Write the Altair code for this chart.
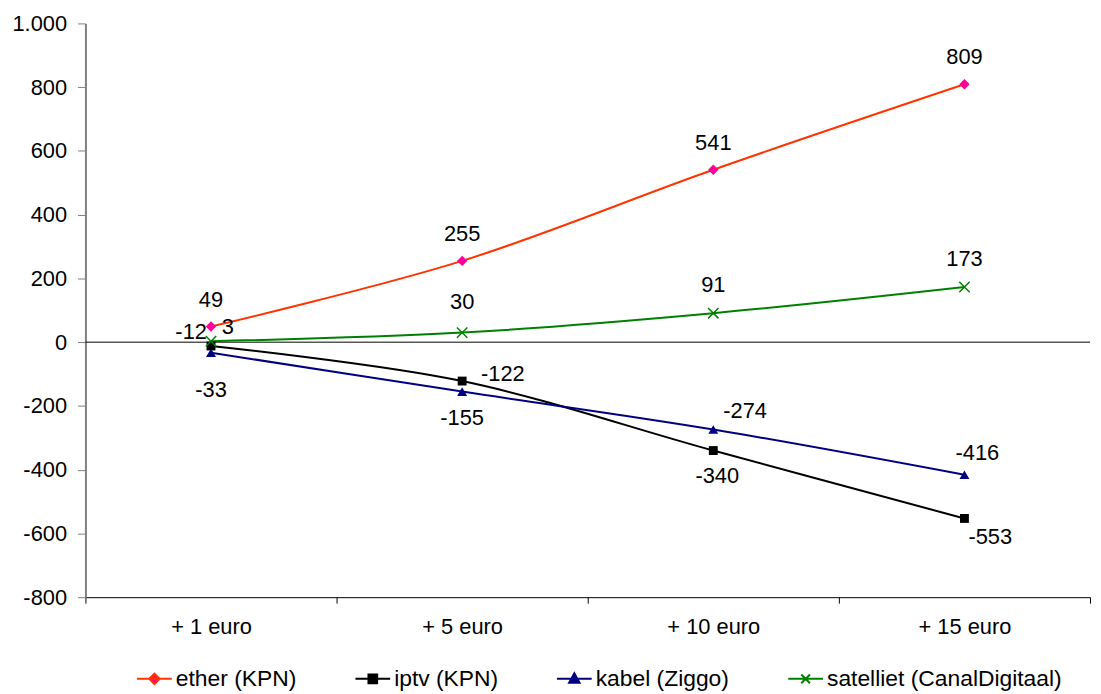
import altair as alt
import pandas as pd

# ---- data ----
categories = ["+ 1 euro", "+ 5 euro", "+ 10 euro", "+ 15 euro"]
series_names = ["ether (KPN)", "iptv (KPN)", "kabel (Ziggo)", "satelliet (CanalDigitaal)"]
ether = [49, 255, 541, 809]
iptv = [-12, -122, -340, -553]
kabel = [-33, -155, -274, -416]
satelliet = [3, 30, 91, 173]
y_ticks = [-800, -600, -400, -200, 0, 200, 400, 600, 800, 1000]

# ---- styles ----
FONT = "Liberation Sans, Arial, Helvetica, sans-serif"
line_colors = ["#FF3300", "#000000", "#000080", "#008000"]
marker_colors = ["#FF0099", "#000000", "#000080", "#008000"]
X_PATH = "M-1,-1L1,1M-1,1L1,-1"
marker_shapes = ["diamond", "square", "triangle-up", X_PATH]
marker_sizes = [110, 80, 100, 110]
legend_paths = [
    "M-1,0H1M0,-0.3L0.3,0L0,0.3L-0.3,0Z",
    "M-1,0H1M-0.25,-0.25H0.25V0.25H-0.25Z",
    "M-1,0H1M0,-0.32L0.3,0.22H-0.3Z",
    "M-1,0H1M-0.25,-0.25L0.25,0.25M-0.25,0.25L0.25,-0.25",
]
# data label offsets in pixels (label placement as in the original)
label_dx = [[0, 0, 0, 0], [-20, 41, 4, 26], [0, 0, 32, 13], [17, 0, 0, 0]]
label_dy = [[-27, -27, -27, -27], [-14, -7, 26, 19], [38, 27, -19, -22], [-14, -31, -28, -28]]

values = [ether, iptv, kabel, satelliet]

x_enc = alt.X(
    "category:N",
    sort=categories,
    scale=alt.Scale(domain=categories, paddingInner=0, paddingOuter=0),
    axis=alt.Axis(
        title=None, labelAngle=0, tickBand="extent", domainColor="#000000",
        tickColor="#000000", tickSize=6, labelPadding=14, labelFontSize=22,
        labelFont=FONT, labelColor="#000000", grid=False, domainWidth=1,
    ),
)
y_enc = alt.Y(
    "value:Q",
    scale=alt.Scale(domain=[-800, 1000], nice=False, zero=False),
    axis=alt.Axis(
        title=None, values=y_ticks, grid=False, domainColor="#808080", domainWidth=2,
        tickColor="#808080", tickSize=8, labelPadding=11, labelFontSize=22,
        labelFont=FONT, labelColor="#000000",
        labelExpr="replace(replace(format(datum.value, ','), ',', '.'), '\u2212', '-')",
    ),
)

frames = []
for i, name in enumerate(series_names):
    frames.append(pd.DataFrame({
        "category": categories,
        "value": values[i],
        "label": [str(v) for v in values[i]],
        "series": name,
    }))
df_all = pd.concat(frames, ignore_index=True)

zero_rule = alt.Chart(pd.DataFrame({"value": [0]})).mark_rule(color="#000000", strokeWidth=1).encode(
    y=y_enc
)

layers = [zero_rule]
for i, name in enumerate(series_names):
    layers.append(
        alt.Chart(frames[i]).mark_line(color=line_colors[i], strokeWidth=2, interpolate="cardinal")
        .encode(x=x_enc, y=y_enc)
    )
for i, name in enumerate(series_names):
    base = alt.Chart(frames[i])
    if i == 3:
        pts = base.mark_point(shape=X_PATH, size=marker_sizes[i], filled=False,
                              stroke=marker_colors[i], strokeWidth=1.5, opacity=1)
    else:
        pts = base.mark_point(shape=marker_shapes[i], size=marker_sizes[i], filled=True,
                              fill=marker_colors[i], opacity=1, strokeWidth=0)
    layers.append(pts.encode(x=x_enc, y=y_enc))
for i, name in enumerate(series_names):
    for j in range(len(categories)):
        layers.append(
            alt.Chart(frames[i].iloc[[j]]).mark_text(
                font=FONT, fontSize=22, color="#000000", baseline="middle", align="center",
                dx=label_dx[i][j], dy=label_dy[i][j],
            ).encode(x=x_enc, y=y_enc, text="label:N")
        )

leg = alt.Legend(
    title=None, orient="none", legendX=51, legendY=641.5, direction="horizontal", columns=4,
    symbolOpacity=1, symbolSize=1225, symbolStrokeWidth=2, labelFont=FONT, labelFontSize=23,
    labelColor="#000000", labelOffset=3, columnPadding=55, padding=0, labelLimit=500,
)
legend_layer = alt.Chart(df_all).mark_point(opacity=0, size=1).encode(
    x=x_enc, y=y_enc,
    stroke=alt.Stroke("series:N", scale=alt.Scale(domain=series_names, range=line_colors), legend=leg),
    fill=alt.Fill("series:N", scale=alt.Scale(domain=series_names, range=marker_colors), legend=leg),
    shape=alt.Shape("series:N", scale=alt.Scale(domain=series_names, range=legend_paths), legend=leg),
)
layers.append(legend_layer)

chart = alt.layer(*layers).properties(
    width=1012, height=578,
    padding={"left": 78, "top": 13, "right": 3, "bottom": 95},
    autosize=alt.AutoSizeParams(type="none"),
    background="#ffffff",
).configure_view(stroke=None)

chart.save("out.html", embed_options={"renderer": "svg", "actions": False})
